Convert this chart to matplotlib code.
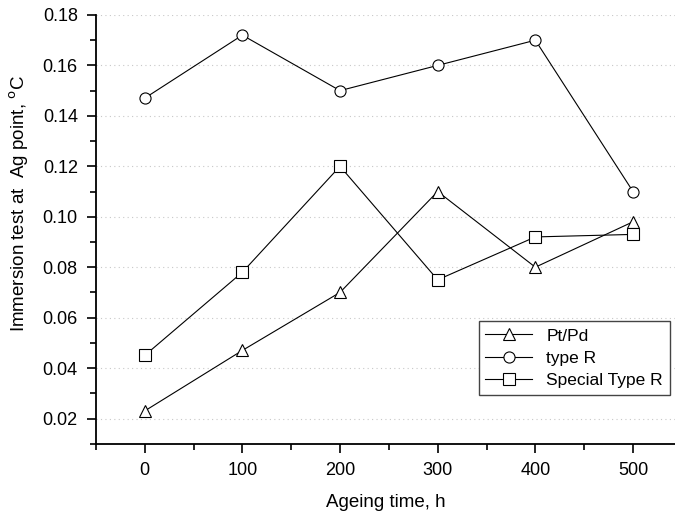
import numpy as np
import matplotlib
matplotlib.use('Agg')
from matplotlib import pyplot as plt
from matplotlib.ticker import MultipleLocator, FormatStrFormatter

plt.rcParams['font.family'] = ['Liberation Sans', 'DejaVu Sans']

AGEING_TIME = [0, 100, 200, 300, 400, 500]
PT_PD = [0.023, 0.047, 0.070, 0.110, 0.080, 0.098]
TYPE_R = [0.147, 0.172, 0.150, 0.160, 0.170, 0.110]
SPECIAL_TYPE_R = [0.045, 0.078, 0.120, 0.075, 0.092, 0.093]

fig = plt.figure(figsize=(6.75, 5.16), dpi=100)
ax = fig.add_axes([0.142, 0.14, 0.858, 0.831])

style = dict(color='black', lw=0.8, markersize=8, markerfacecolor='white',
             markeredgecolor='black', markeredgewidth=0.8)
ax.plot(AGEING_TIME, PT_PD, marker='^', label='Pt/Pd', **style)
ax.plot(AGEING_TIME, TYPE_R, marker='o', label='type R', **style)
ax.plot(AGEING_TIME, SPECIAL_TYPE_R, marker='s', label='Special Type R', **style)

ax.set_xlim(-50, 543)
ax.set_ylim(0.01, 0.18)
ax.xaxis.set_major_locator(MultipleLocator(100))
ax.xaxis.set_minor_locator(MultipleLocator(50))
ax.yaxis.set_major_locator(MultipleLocator(0.02))
ax.yaxis.set_minor_locator(MultipleLocator(0.01))
ax.yaxis.set_major_formatter(FormatStrFormatter('%.2f'))

for side in ('top', 'right'):
    ax.spines[side].set_visible(False)
for side in ('left', 'bottom'):
    ax.spines[side].set_linewidth(1.3)
ax.tick_params(which='major', direction='out', length=6.5, width=1.2,
               labelsize=13, pad=6.5)
ax.tick_params(which='minor', direction='out', length=4, width=1.2)

ax.grid(True, which='major', axis='y', color='#c8c8c8', lw=0.8, ls=(0, (1, 3)))
ax.set_axisbelow(True)

ax.set_xlabel('Ageing time, h', fontsize=13.5, labelpad=11)
ax.set_ylabel('Immersion test at  Ag point, $^{\\mathrm{o}}$C', fontsize=13.5)
ax.yaxis.set_label_coords(-0.112, 0.56)

leg = ax.legend(loc='lower right', bbox_to_anchor=(1.0, 0.225),
                bbox_transform=fig.transFigure, fancybox=False, framealpha=1,
                edgecolor='#444444', fontsize=12.5, handlelength=2.7,
                borderpad=0.4, labelspacing=0.4, handletextpad=0.8,
                borderaxespad=0.3)
leg.get_frame().set_linewidth(1.0)

fig.savefig('out.png', dpi=100)
